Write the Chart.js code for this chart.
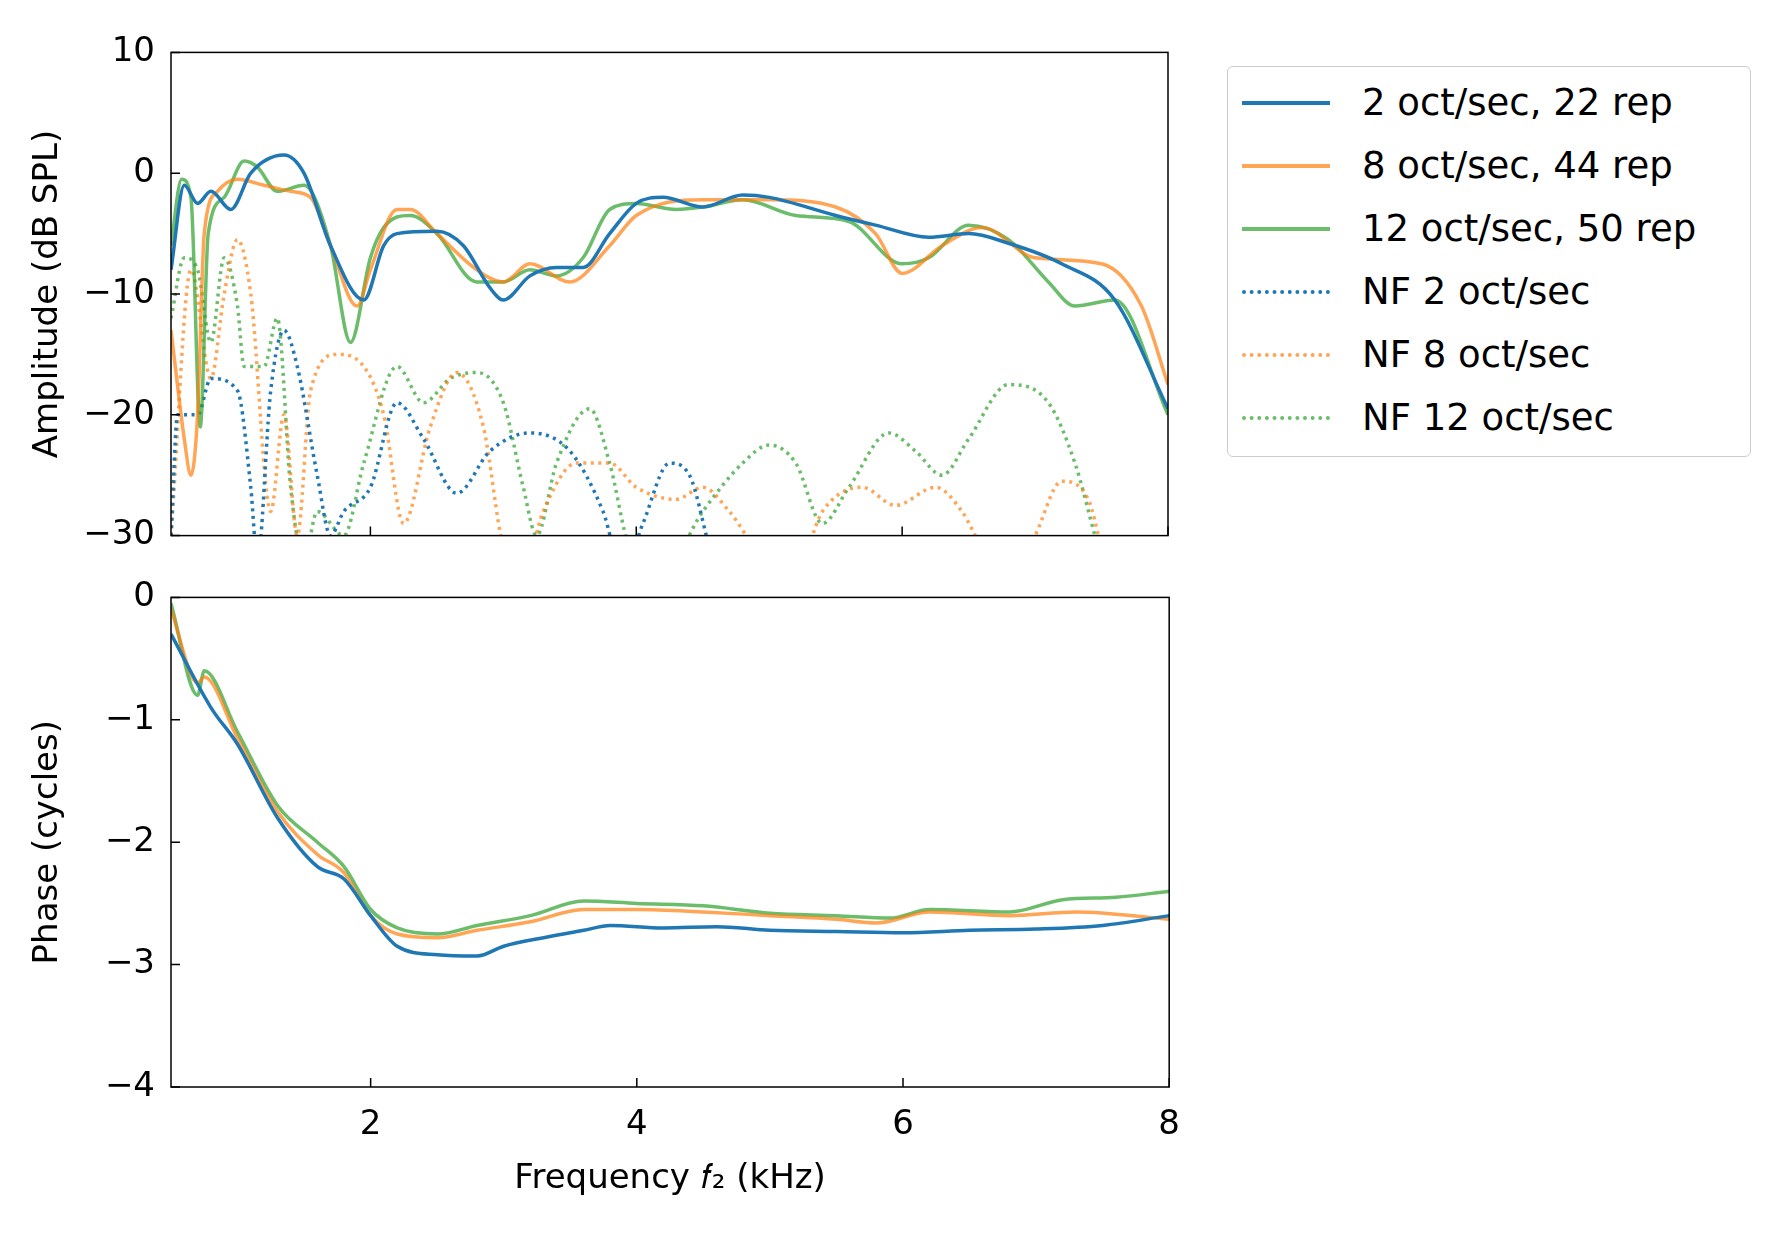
<!DOCTYPE html>
<html><head><meta charset="utf-8">
<script src="https://cdn.jsdelivr.net/npm/chart.js@4"></script>
<style>
body{margin:0;width:1783px;height:1235px;background:#fff;position:relative;overflow:hidden;font-family:"DejaVu Sans";}
.c{position:absolute;left:24px;}
#legend{position:absolute;left:1227px;top:66px;width:524px;height:391px;border:1.5px solid #ccc;border-radius:6px;box-sizing:border-box;padding:4px 0 0 14px;}
.row{display:flex;align-items:center;height:63px;font-size:37px;color:#000;white-space:nowrap;}
.ln{width:88px;margin-right:32px;}
</style></head><body>
<div class="c" style="top:24px;height:540px;width:1154px"><canvas id="a"></canvas></div>
<div class="c" style="top:569px;height:635px;width:1166px"><canvas id="p"></canvas></div>
<div id="legend"></div>
<script>
const C={b:'#1f77b4',o:'rgba(255,127,14,0.7)',g:'rgba(44,160,44,0.7)'};
const labels=['2 oct/sec, 22 rep','8 oct/sec, 44 rep','12 oct/sec, 50 rep','NF 2 oct/sec','NF 8 oct/sec','NF 12 oct/sec'];
const ampBlue=[[0.5,-8],[0.6,-1],[0.7,-2.5],[0.8,-1.5],[0.95,-3],[1.1,0],[1.35,1.5],[1.5,0],[1.7,-6],[1.95,-10.5],[2.1,-6],[2.2,-5],[2.5,-4.8],[2.7,-6],[2.9,-9.5],[3.0,-10.5],[3.2,-8.5],[3.4,-7.8],[3.6,-7.8],[3.8,-5],[4.0,-2.5],[4.2,-2],[4.5,-2.8],[4.8,-1.8],[5.0,-2],[5.5,-3.5],[5.8,-4.3],[6.2,-5.3],[6.5,-5],[6.8,-5.8],[7.2,-7.5],[7.6,-10.5],[8,-19.5]];
const ampOrange=[[0.5,-13],[0.6,-22],[0.65,-25],[0.7,-20],[0.75,-5],[0.85,-1.5],[1.0,-0.5],[1.2,-1],[1.4,-1.5],[1.55,-2],[1.7,-6],[1.9,-11],[2.0,-8],[2.2,-3],[2.3,-3],[2.5,-5],[2.8,-8],[3.0,-9],[3.2,-7.5],[3.5,-9],[3.8,-6],[4.0,-3.5],[4.5,-2.2],[5,-2.2],[5.5,-2.8],[5.8,-5],[6.0,-8.3],[6.3,-6],[6.6,-4.5],[7.0,-7],[7.5,-7.5],[7.8,-11],[8,-17.5]];
const ampGreen=[[0.5,-6],[0.58,-0.5],[0.65,-2],[0.72,-21],[0.78,-5],[0.9,-2],[1.05,1],[1.15,0.5],[1.3,-1.5],[1.5,-1],[1.7,-6],[1.85,-14],[2.0,-7],[2.1,-4.5],[2.3,-3.5],[2.5,-5],[2.8,-9],[3.0,-9],[3.2,-8],[3.4,-8.5],[3.6,-7],[3.8,-3],[4.0,-2.5],[4.3,-3],[4.5,-2.8],[4.8,-2.2],[5.2,-3.5],[5.6,-4],[6.0,-7.5],[6.2,-7],[6.5,-4.3],[6.8,-5.5],[7.1,-9],[7.3,-11],[7.6,-10.5],[8,-20]];
const nfBlue=[[0.5,-30],[0.55,-20],[0.7,-20],[0.8,-17],[1.0,-18],[1.1,-26],[1.15,-32],[1.25,-18],[1.35,-13],[1.45,-16],[1.6,-25],[1.7,-30],[1.8,-28],[2.0,-26],[2.2,-19],[2.4,-22],[2.65,-26.5],[2.9,-23],[3.2,-21.5],[3.5,-23],[3.75,-28],[3.9,-33],[4.05,-29],[4.25,-24],[4.4,-25],[4.55,-31]];
const nfOrange=[[0.5,-30],[0.65,-8],[0.8,-17],[0.9,-10],[1.0,-5.5],[1.1,-10],[1.25,-28],[1.35,-20],[1.45,-30],[1.55,-18],[1.75,-15],[1.95,-16],[2.1,-20],[2.25,-29],[2.45,-21],[2.65,-16.5],[2.85,-21],[3.0,-31],[3.15,-33],[3.3,-28],[3.55,-24],[3.8,-24],[4.0,-26],[4.3,-27],[4.5,-26],[4.7,-28],[4.9,-31],[5.2,-33],[5.4,-28],[5.7,-26],[5.95,-27.5],[6.25,-26],[6.45,-28],[6.6,-31],[6.8,-34],[7.0,-30],[7.2,-25.5],[7.4,-27],[7.5,-31]];
const nfGreen=[[0.5,-12],[0.6,-7],[0.7,-8],[0.8,-14],[0.9,-7],[1.0,-11],[1.05,-16],[1.2,-16],[1.3,-12],[1.4,-26],[1.5,-32],[1.6,-28],[1.8,-30],[1.95,-24],[2.2,-16],[2.4,-19],[2.6,-17],[2.8,-16.5],[3.0,-19],[3.15,-26],[3.25,-30],[3.4,-24],[3.65,-19.5],[3.8,-24],[3.95,-31],[4.2,-33],[4.5,-28],[4.8,-24],[5.0,-22.5],[5.2,-24],[5.4,-29],[5.6,-26],[5.9,-21.5],[6.1,-23],[6.3,-25],[6.5,-22],[6.8,-17.5],[7.1,-19],[7.3,-24],[7.45,-30]];
const phBlue=[[0.5,-0.3],[0.8,-0.9],[1.0,-1.2],[1.3,-1.8],[1.6,-2.2],[1.8,-2.3],[2.0,-2.6],[2.2,-2.85],[2.5,-2.92],[2.8,-2.93],[3.0,-2.85],[3.3,-2.78],[3.6,-2.72],[3.8,-2.68],[4.2,-2.7],[4.6,-2.69],[5.0,-2.72],[5.5,-2.73],[6,-2.74],[6.5,-2.72],[7,-2.71],[7.5,-2.68],[8,-2.6]];
const phOrange=[[0.5,-0.1],[0.7,-0.7],[0.75,-0.65],[1.0,-1.15],[1.3,-1.75],[1.6,-2.1],[1.8,-2.25],[2.0,-2.6],[2.2,-2.75],[2.5,-2.78],[2.8,-2.72],[3.2,-2.65],[3.6,-2.55],[4,-2.55],[4.5,-2.57],[5,-2.6],[5.5,-2.63],[5.8,-2.66],[6.2,-2.57],[6.8,-2.6],[7.3,-2.57],[8,-2.63]];
const phGreen=[[0.5,-0.05],[0.7,-0.8],[0.75,-0.6],[1.0,-1.1],[1.3,-1.7],[1.6,-2.0],[1.8,-2.2],[2.0,-2.55],[2.2,-2.7],[2.5,-2.75],[2.8,-2.68],[3.2,-2.6],[3.6,-2.48],[4,-2.5],[4.5,-2.52],[5,-2.58],[5.5,-2.6],[5.9,-2.62],[6.2,-2.55],[6.8,-2.57],[7.2,-2.47],[7.6,-2.45],[8,-2.4]];
const ampTicks=[10,0,-10,-20,-30], phTicks=[0,-1,-2,-3,-4], xTicks=[2,4,6,8];

const pts=a=>a.map(([x,y])=>({x,y}));
const ds=(d,c,dot,lab)=>({label:lab,data:pts(d),borderColor:c,borderWidth:3.5,borderDash:dot?[3,4.5]:[],pointRadius:0,cubicInterpolationMode:'monotone',fill:false});
const minus=v=>String(v).replace('-','\u2212');
const F={family:'DejaVu Sans',size:34};
const inTicks={id:'inTicks',afterDraw(ch){const c=ch.ctx,a=ch.chartArea;c.save();c.strokeStyle='#000';c.lineWidth=1.5;c.strokeRect(a.left,a.top,a.right-a.left,a.bottom-a.top);
 const xs=ch.scales.x,ys=ch.scales.y;c.beginPath();
 xTicks.forEach(t=>{const px=xs.getPixelForValue(t);c.moveTo(px,a.bottom);c.lineTo(px,a.bottom-9);});
 ys.ticks.forEach(t=>{const py=ys.getPixelForValue(t.value);c.moveTo(a.left,py);c.lineTo(a.left+9,py);});
 c.stroke();c.restore();}};
function mk(id,data,yt,ylab,bottom){
 new Chart(document.getElementById(id),{type:'line',data:{datasets:data},plugins:[inTicks],
 options:{responsive:true,maintainAspectRatio:false,animation:false,layout:{padding:{top:20,right:bottom?0:10,left:0,bottom:0}},
 plugins:{legend:{display:false},tooltip:{enabled:false}},
 scales:{x:{type:'linear',min:0.5,max:8,afterBuildTicks:s=>{s.ticks=xTicks.map(v=>({value:v}));},
   afterFit:s=>{s.height=bottom?117:10;},grid:{display:false},border:{display:false},
   ticks:{display:bottom,font:F,color:'#000',padding:10,maxRotation:0},
   title:{display:bottom,text:'Frequency \u{1D453}\u2082 (kHz)',font:F,color:'#000',padding:{top:6}}},
  y:{min:yt[yt.length-1],max:yt[0],afterBuildTicks:s=>{s.ticks=yt.map(v=>({value:v}));},afterFit:s=>{s.width=147;},
   grid:{display:false},border:{display:false},
   ticks:{font:F,color:'#000',padding:8,callback:v=>minus(v)},
   title:{display:true,text:ylab,font:F,color:'#000',padding:{bottom:2}}}}}});
}
mk('a',[ds(ampBlue,C.b),ds(ampOrange,C.o),ds(ampGreen,C.g),ds(nfBlue,C.b,1),ds(nfOrange,C.o,1),ds(nfGreen,C.g,1)],ampTicks,'Amplitude (dB SPL)',false);
mk('p',[ds(phBlue,C.b),ds(phOrange,C.o),ds(phGreen,C.g)],phTicks,'Phase (cycles)',true);
const lc=[C.b,C.o,C.g,C.b,C.o,C.g];
document.getElementById('legend').innerHTML=labels.map((l,i)=>`<div class="row"><div class="ln" style="border-top:4px ${i<3?'solid':'dotted'} ${lc[i]}"></div>${l}</div>`).join('');
</script></body></html>
